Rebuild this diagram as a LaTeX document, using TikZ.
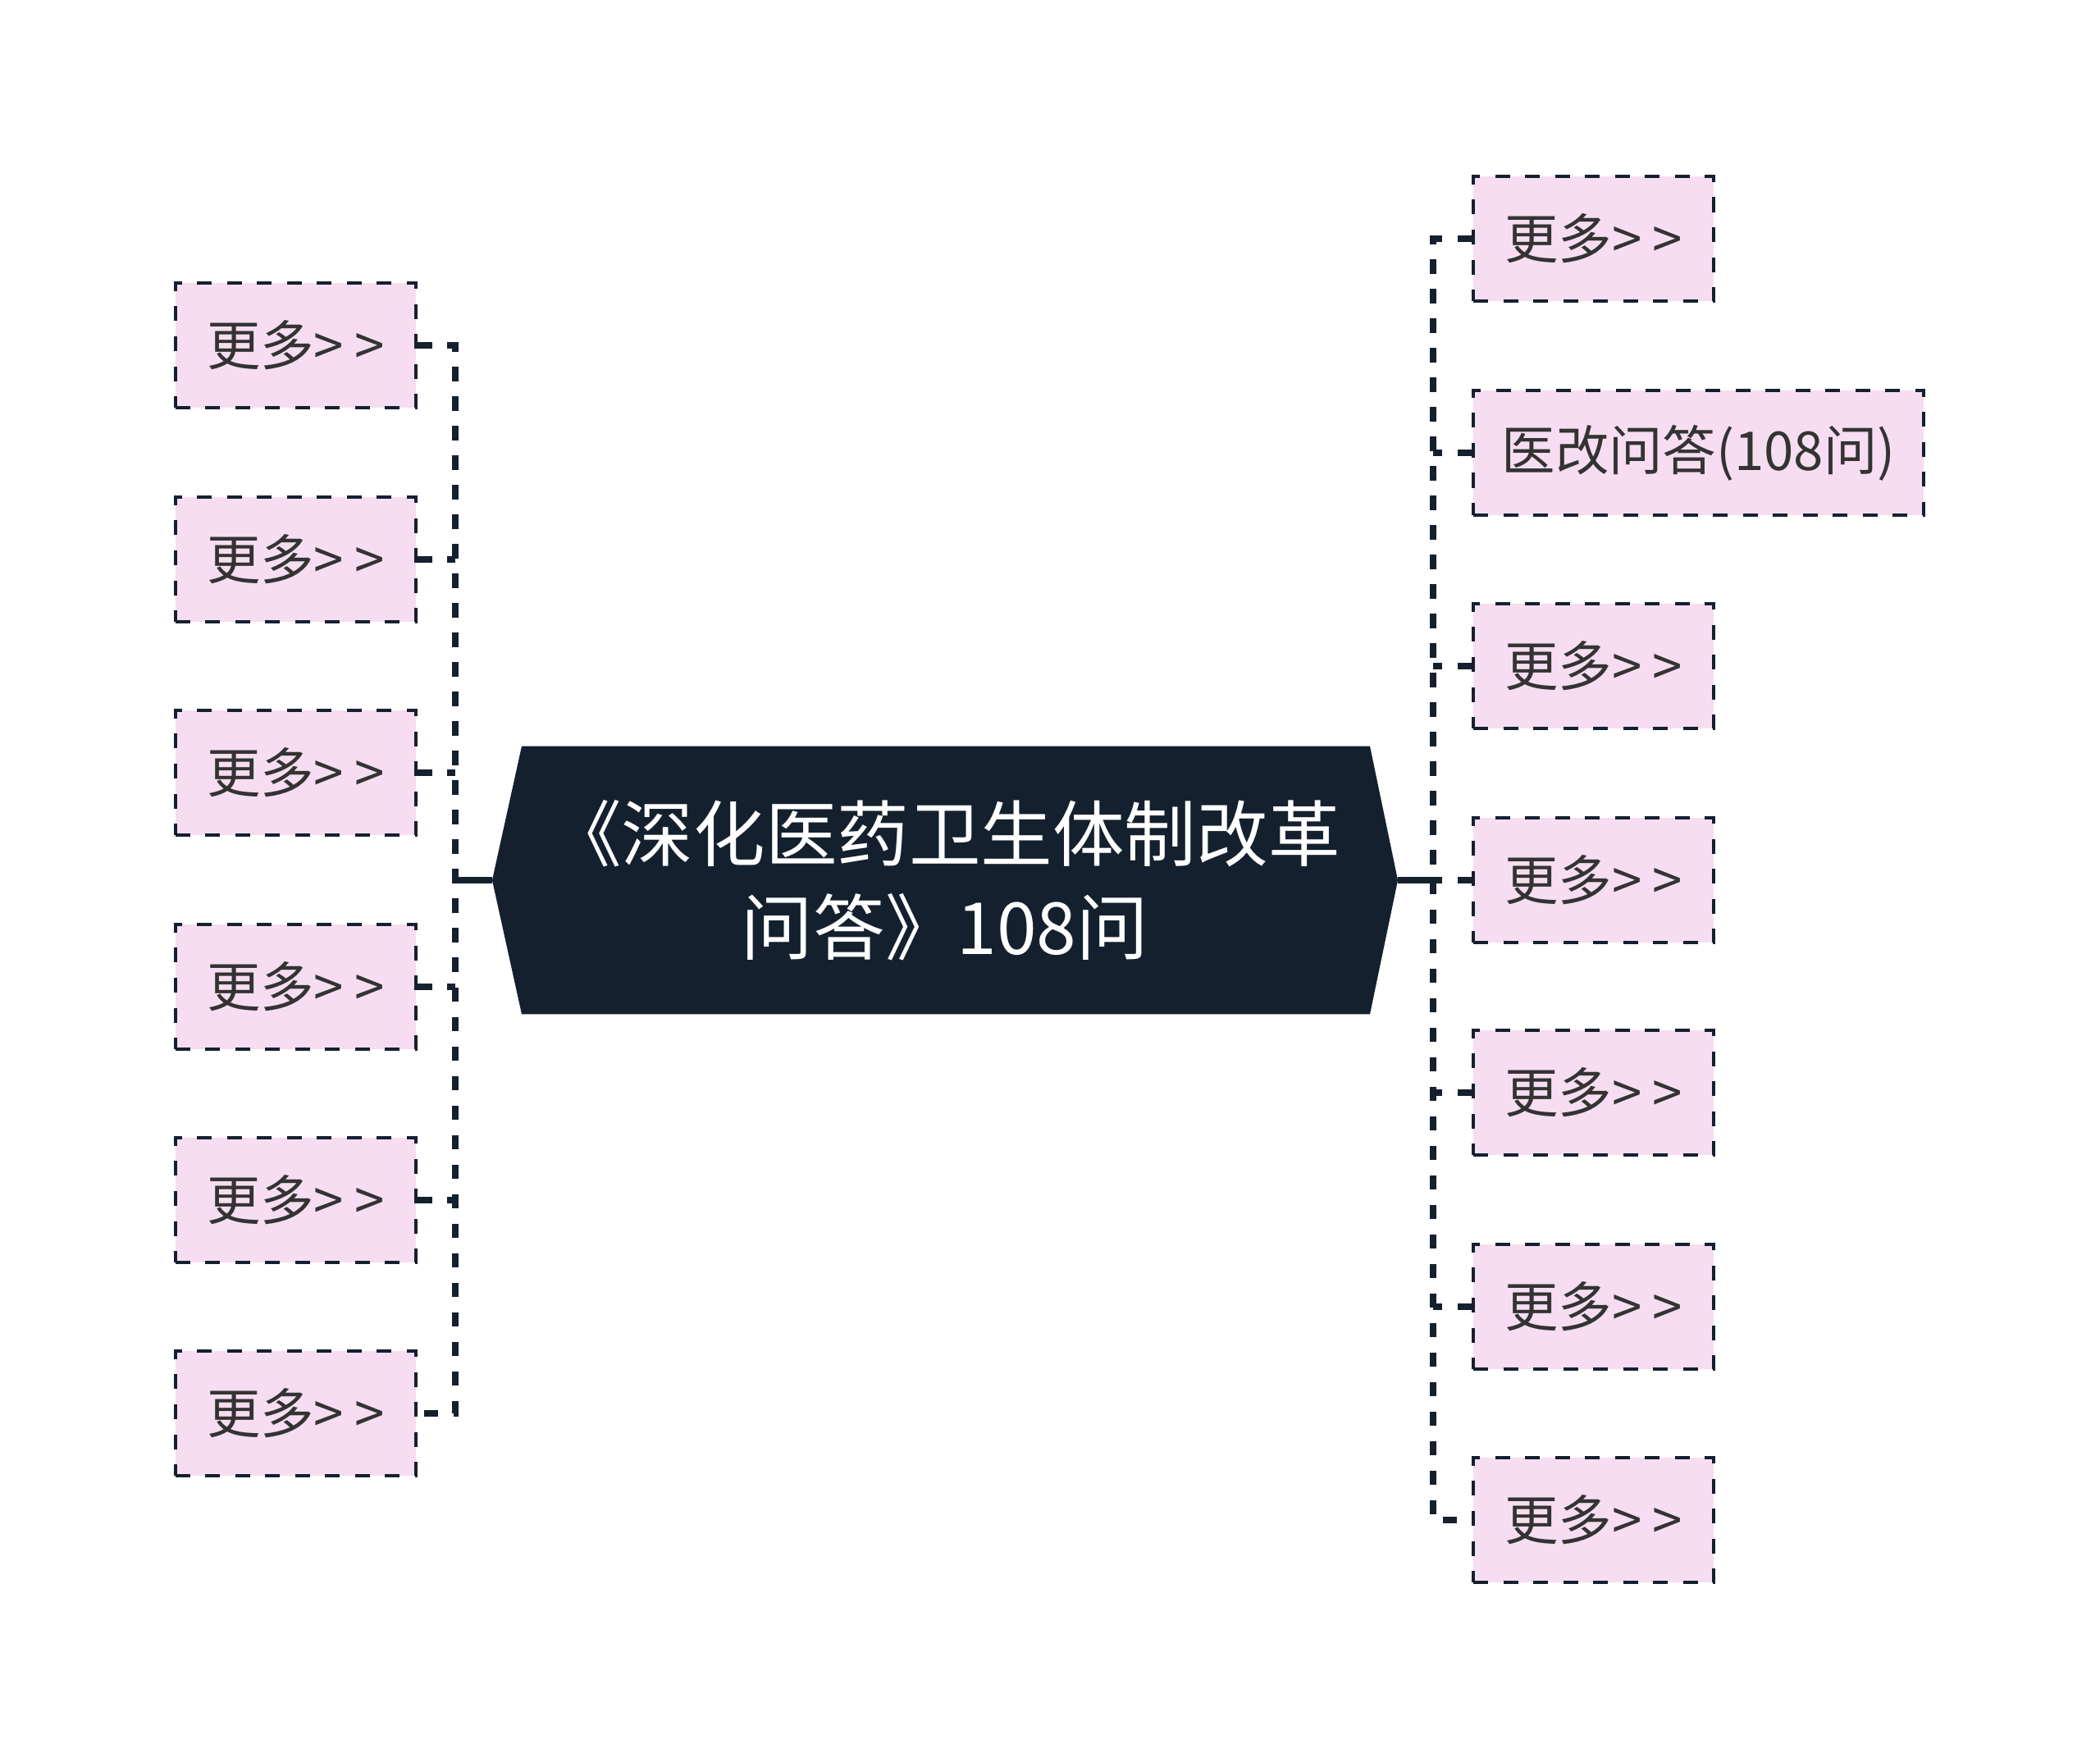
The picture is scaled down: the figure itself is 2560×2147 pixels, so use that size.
\documentclass[tikz,border=0pt]{standalone}
\usepackage{fontspec}
\newfontfamily\cjk{Noto Sans CJK SC}
\usepackage{tikz}
\usetikzlibrary{positioning,calc,backgrounds}
\definecolor{navy}{HTML}{15202F}
\definecolor{pinkbox}{HTML}{F6DDF1}
\definecolor{txtgray}{HTML}{333333}
\newcommand{\moretxt}{更多>\kern0.2em>}

\begin{document}
\begin{tikzpicture}[
    x=0.01cm, y=-0.01cm,
    topic/.style={minimum width=11.02cm, minimum height=3.25cm, inner sep=0pt, align=center, text=white, font=\cjk\fontsize{24.9}{32.4}\selectfont},
    more/.style={draw=navy, fill=pinkbox, line width=1.15pt, dash pattern=on 0.18cm off 0.185cm, minimum width=2.93cm, minimum height=1.52cm, inner sep=0pt, text=txtgray, font=\cjk\fontsize{18.6}{22}\selectfont},
    link/.style={draw=navy, line width=2.1pt, dash pattern=on 0.175cm off 0.185cm},
    stub/.style={draw=navy, line width=2.1pt}
]
    \useasboundingbox (0,0) rectangle (2560,2147);

    % Central topic
    \node[topic] (root) at (1152,1073) {《深化医药卫生体制改革\\问答》108问};
    \begin{scope}[on background layer]
        \fill[navy] (root.west) -- ($(root.north west)+(36,0)$) -- ($(root.north east)+(-34,0)$) -- (root.east)
            -- ($(root.south east)+(-34,0)$) -- ($(root.south west)+(36,0)$) -- cycle;
    \end{scope}

    % Left
    \node[more, anchor=east] (l1) at (509,421) {\moretxt};
    \node[more, anchor=east] (l2) at (509,682) {\moretxt};
    \node[more, anchor=east] (l3) at (509,942) {\moretxt};
    \node[more, anchor=east] (l4) at (509,1203) {\moretxt};
    \node[more, anchor=east] (l5) at (509,1463) {\moretxt};
    \node[more, anchor=east] (l6) at (509,1723) {\moretxt};

    % Right
    \node[more, anchor=west] (r1) at (1794,291) {\moretxt};
    \node[more, anchor=west, minimum width=5.49cm] (r2) at (1794,552) {医改问答(108问)};
    \node[more, anchor=west] (r3) at (1794,812) {\moretxt};
    \node[more, anchor=west] (r4) at (1794,1073) {\moretxt};
    \node[more, anchor=west] (r5) at (1794,1332) {\moretxt};
    \node[more, anchor=west] (r6) at (1794,1593) {\moretxt};
    \node[more, anchor=west] (r7) at (1794,1853) {\moretxt};

    \coordinate (lspine) at (555,1073);
    \coordinate (rspine) at (1747,1073);

    % Left links
    \draw[stub] (root.west) -- (lspine);
    \draw[link] (l1.east) -| (lspine |- l6.east) -- (l6.east);
    \draw[link] (l2.east) -- (l2.east -| lspine);
    \draw[link] (l3.east) -- (l3.east -| lspine);
    \draw[link] (l4.east) -- (l4.east -| lspine);
    \draw[link] (l5.east) -- (l5.east -| lspine);

    % Right links
    \draw[stub] (root.east) -- (rspine);
    \draw[link] (r1.west) -| (rspine |- r7.west) -- (r7.west);
    \draw[link] (r2.west) -- (r2.west -| rspine);
    \draw[link] (r3.west) -- (r3.west -| rspine);
    \draw[link] (r4.west) -- (r4.west -| rspine);
    \draw[link] (r5.west) -- (r5.west -| rspine);
    \draw[link] (r6.west) -- (r6.west -| rspine);
\end{tikzpicture}
\end{document}
